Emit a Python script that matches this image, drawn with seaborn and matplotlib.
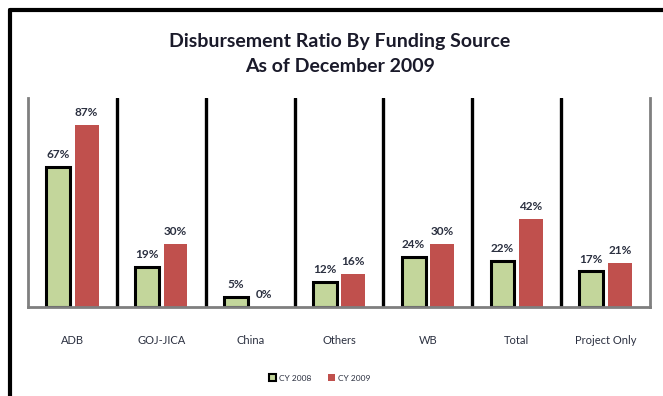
import matplotlib
matplotlib.use("Agg")
import matplotlib.pyplot as plt
import seaborn as sns
import pandas as pd
from matplotlib.patches import Patch
from matplotlib.lines import Line2D

categories = ["ADB", "GOJ-JICA", "China", "Others", "WB", "Total", "Project Only"]
cy2008 = [67, 19, 5, 12, 24, 22, 17]
cy2009 = [87, 30, 0, 16, 30, 42, 21]
series = ["CY 2008", "CY 2009"]
title = "Disbursement Ratio By Funding Source\nAs of December 2009"

green = "#C3D69B"
red = "#C0504D"
txt = "#2B3040"

df = pd.DataFrame({
    "Source": categories * 2,
    "Ratio": cy2008 + cy2009,
    "Year": [series[0]] * len(categories) + [series[1]] * len(categories),
})

sns.set_theme(style="white")
plt.rcParams["font.family"] = ["Lato", "DejaVu Sans"]

fig = plt.figure(figsize=(6.63, 3.96), dpi=100)
ax = fig.add_axes([28 / 663, 89 / 396, 622 / 663, 209 / 396])

sns.barplot(data=df, x="Source", y="Ratio", hue="Year", order=categories,
            hue_order=series, palette=[green, red], width=0.64, gap=0.16,
            saturation=1, legend=False, ax=ax)

# style bars
for i, cont in enumerate(ax.containers):
    for bar in cont:
        if i == 0:
            bar.set_edgecolor("black")
            bar.set_linewidth(2.2)
        else:
            bar.set_edgecolor("none")
    ax.bar_label(cont, labels=[f"{v:.0f}%" for v in cont.datavalues],
                 padding=5, fontsize=8.5, color=txt, fontweight="bold")

ax.set_ylim(0, 100)
ax.set_xlim(-0.5, len(categories) - 0.5)
ax.set_yticks([])
ax.set_xlabel("")
ax.set_ylabel("")
ax.tick_params(axis="x", length=0, pad=20, labelsize=8, labelcolor=txt)
for s in ["left", "right", "bottom"]:
    ax.spines[s].set_color("#7F7F7F")
    ax.spines[s].set_linewidth(2)
ax.spines["top"].set_visible(False)

# category separators
for k in range(1, len(categories)):
    ax.axvline(k - 0.5, color="black", linewidth=2.4, zorder=0)

fig.text(340 / 663, 1 - 54 / 396, title, ha="center", va="center",
         fontsize=14, fontweight="bold", color="#1a1a2a", linespacing=1.6)

handles = [Patch(facecolor=green, edgecolor="black", linewidth=1.5, label=series[0]),
           Patch(facecolor=red, edgecolor="none", label=series[1])]
fig.legend(handles=handles, loc="center", bbox_to_anchor=(320 / 663, 1 - 378 / 396),
           ncol=2, frameon=False, fontsize=6, handlelength=0.8, handleheight=0.8,
           columnspacing=2.0, handletextpad=0.4, labelcolor=txt)

# outer frame
fig.add_artist(Line2D([10 / 663, 10 / 663], [0, 1 - 10 / 396], transform=fig.transFigure,
                      color="black", linewidth=3))
fig.add_artist(Line2D([10 / 663, 1], [1 - 10 / 396, 1 - 10 / 396], transform=fig.transFigure,
                      color="black", linewidth=3))

fig.savefig("out.png", dpi=100)
